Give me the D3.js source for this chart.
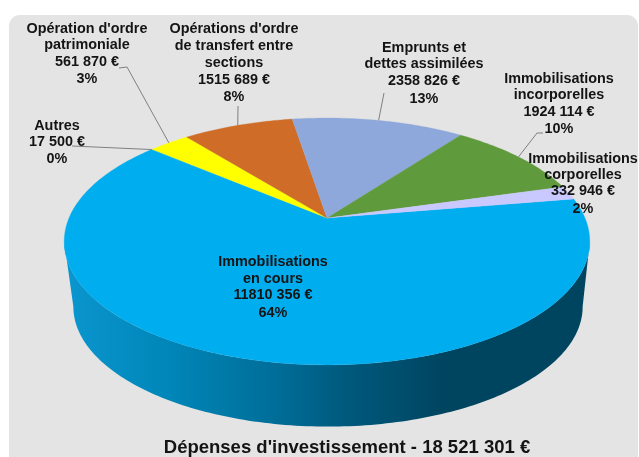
<!DOCTYPE html>
<html><head><meta charset="utf-8">
<style>html,body{margin:0;padding:0;background:#fff;overflow:hidden}svg{display:block;filter:blur(0.45px)}text{font-family:"Liberation Sans",Arial,sans-serif;font-weight:700;fill:#141414}</style>
<script src="https://cdn.jsdelivr.net/npm/d3@7"></script>
</head><body><svg id="c" width="639" height="457"></svg>
<script>
const categories = ["Immobilisations en cours","Autres","Opération d'ordre patrimoniale","Opérations d'ordre de transfert entre sections","Emprunts et dettes assimilées","Immobilisations incorporelles","Immobilisations corporelles"];
const values = [11810356,17500,561870,1515689,2358826,1924114,332946];
const colors = ["#00ADEF","#00ADEF","#FFFF00","#CF6C28","#8EA8DB","#5F9A3C","#C9C9FF"];
const labelLines = [
 ["Immobilisations","en cours","11810 356 €","64%"],
 ["Autres","17 500 €","0%"],
 ["Opération d'ordre","patrimoniale","561 870 €","3%"],
 ["Opérations d'ordre","de transfert entre","sections","1515 689 €","8%"],
 ["Emprunts et","dettes assimilées","2358 826 €","13%"],
 ["Immobilisations","incorporelles","1924 114 €","10%"],
 ["Immobilisations","corporelles","332 946 €","2%"]
];
const labelCx = [273,57,87,234,424,559,583];
const labelBase = [
 [266,283,299,317],[130,146,163],[33,49,66,83],[33,50,67,84,101],[52,68,85,103],[83,99,116,133],[163,179,195,213]
];
// leader line waypoints, ending at the slice's mid-angle on the rim
const leaders = [null,[[72,146]],[[119,68],[127,67]],[[238,106]],[[384,93]],[[543,133],[537,133]],null];
const chartTitle = "Dépenses d'investissement - 18 521 301 €";

const rad=d=>d*Math.PI/180;
const svg=d3.select("#c");
const defs=svg.append("defs");
const grad=defs.append("linearGradient").attr("id","side").attr("gradientUnits","userSpaceOnUse").attr("x1",64).attr("x2",590).attr("y1",0).attr("y2",0);
[[0,"#0A96CF"],[0.2,"#0086B8"],[0.4,"#006E99"],[0.55,"#00577A"],[0.72,"#004560"],[1,"#004560"]].forEach(([o,c])=>grad.append("stop").attr("offset",o).attr("stop-color",c));

svg.append("rect").attr("x",9).attr("y",15).attr("width",629).attr("height",470).attr("rx",11).attr("fill","#E4E4E4");

// perspective projection of the pie disc
function projector(x0,y0,A,B,k){
  return a=>{const X=Math.sin(a),Y=Math.cos(a),w=1+k*Y;return [x0+A*X/w,y0-B*Y/w];};
}
const rimTop=projector(327,218,258,119,0.19);
const rimBot=projector(328,284,250,115.5,0.19);
const line=d3.line();
const sampleArc=(p,a0,a1)=>{const n=Math.max(2,Math.ceil(Math.abs(a1-a0)/rad(1)));return d3.range(n+1).map(i=>p(a0+(a1-a0)*i/n));};

// side wall between the widest points of the top rim and of the bottom rim
svg.append("path").attr("d",line(sampleArc(rimTop,rad(101),rad(259)).concat(sampleArc(rimBot,rad(259),rad(101))))+"Z").attr("fill","url(#side)");

const pie=d3.pie().sort(null).startAngle(rad(80.5)).endAngle(rad(80.5)+2*Math.PI);
const arcs=pie(values);
svg.append("g").selectAll("path").data(arcs).join("path")
 .attr("d",d=>line([[327,218],...sampleArc(rimTop,d.startAngle,d.endAngle)])+"Z")
 .attr("fill",(d,i)=>colors[i]).attr("stroke",(d,i)=>colors[i]).attr("stroke-width",0.3);

// leaders
svg.append("g").selectAll("path").data(arcs.filter((d,i)=>leaders[i])).join("path")
 .attr("d",d=>line([...leaders[d.index],rimTop((d.startAngle+d.endAngle)/2)]))
 .attr("fill","none").attr("stroke","#808080").attr("stroke-width",1);

// labels
labelLines.forEach((ls,i)=>{
 const t=svg.append("text").attr("text-anchor","middle").attr("font-size",14.4);
 ls.forEach((s,j)=>t.append("tspan").attr("x",labelCx[i]).attr("y",labelBase[i][j]).text(s));
});
svg.append("text").attr("x",347).attr("y",453).attr("text-anchor","middle").attr("font-size",18.5).text(chartTitle);
</script></body></html>
